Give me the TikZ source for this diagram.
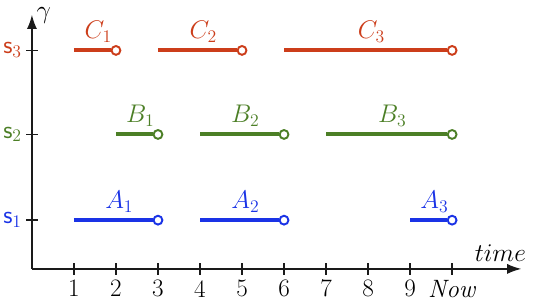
\documentclass[tikz,border=0pt]{standalone}
\usepackage{xcolor}
\usepackage{tikz}
\usetikzlibrary{arrows.meta,positioning}
\definecolor{INK}{HTML}{1A1A1A}
\definecolor{SA}{HTML}{1A33E6}
\definecolor{SB}{HTML}{4C7F26}
\definecolor{SC}{HTML}{CC3D1A}

\begin{document}
\begin{tikzpicture}[
  font=\fontsize{17pt}{20pt}\selectfont,
  axis/.style={draw=INK, line width=1.1pt, -{Latex[length=3.4mm, width=2.4mm]}},
  tick/.style={draw=INK, line width=1.1pt},
  seg/.style={line width=2.7pt},
  endpt/.style={circle, draw, line width=1.3pt, fill=white, inner sep=0pt, minimum size=2.1mm},
  lab/.style={inner sep=1pt},
]
\useasboundingbox (-0.76,-0.76) rectangle (12.33,6.40);

% axes
\coordinate (O) at (0,0);
\coordinate (xend) at (11.65,0);
\coordinate (yend) at (0,6.05);
\draw[axis] (O) -- (xend);
\draw[axis] (O) -- (yend);
\node[inner sep=0pt] (gamma) at (0.28,6.02) {$\gamma$};
\node[inner sep=1pt] (time) at (11.15,0.38) {$time$};

% time ticks
\foreach \t/\txt in {1/1,2/2,3/3,4/4,5/5,6/6,7/7,8/8,9/9,10/{\textit{Now}}} {
  \coordinate (t\t) at (\t,0);
  \draw[tick] ([yshift=-1.4mm]t\t) -- ([yshift=1.4mm]t\t);
  \node[inner sep=1pt] (tl\t) at (\t,-0.47) {\txt};
}

% states
\foreach \s/\y/\col in {1/1.16/SA,2/3.2/SB,3/5.2/SC} {
  \coordinate (s\s) at (0,\y);
  \draw[tick] ([xshift=-1.4mm]s\s) -- ([xshift=1.4mm]s\s);
  \node[text=\col, inner sep=1pt] (sl\s) at (-0.46,\y) {$\mathsf{s}_{\s}$};
}

% intervals
\foreach \a/\b/\y/\col/\nm in {1/3/1.16/SA/A_1,4/6/1.16/SA/A_2,9/10/1.16/SA/A_3,
                              2/3/3.2/SB/B_1,4/6/3.2/SB/B_2,7/10/3.2/SB/B_3,
                              1/2/5.2/SC/C_1,3/5/5.2/SC/C_2,6/10/5.2/SC/C_3} {
  \coordinate (p) at (\a,\y);
  \node[endpt, draw=\col] (q) at (\b,\y) {};
  \draw[seg, draw=\col] (p) -- (q.west);
  \node[lab, text=\col] (n\nm) at ({(\a+\b)/2+0.08},\y+0.44) {$\nm$};
}

\end{tikzpicture}
\end{document}
